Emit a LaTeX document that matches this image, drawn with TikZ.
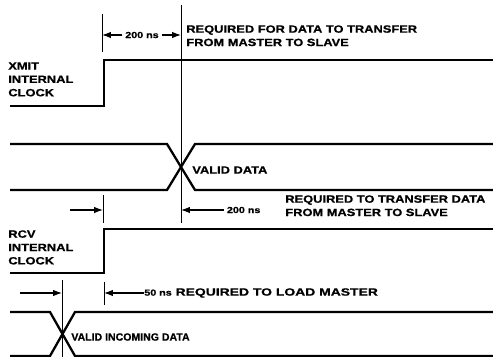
\documentclass[tikz,border=0pt]{standalone}
\usepackage{fontspec}
\setmainfont{Liberation Sans}
\newfontfamily\capsfont[FakeStretch=1.22,FakeBold=0.8]{Liberation Sans Bold}
\newfontfamily\loadfont[FakeStretch=1.32,FakeBold=0.8]{Liberation Sans Bold}
\newfontfamily\plainbold[FakeBold=0.8]{Liberation Sans Bold}
\usetikzlibrary{arrows.meta,positioning}

\begin{document}
\begin{tikzpicture}[x=0.02cm,y=-0.02cm]
      \tikzstyle{wave} = [line width=1.3pt]
      \tikzstyle{guide} = [line width=0.45pt]
      \tikzstyle{dim} = [line width=0.6pt, -{Latex[length=5pt,width=3.6pt]}]
      \tikzstyle{caption} = [font=\capsfont\fontsize{6}{7.6}\selectfont, align=left, inner sep=0pt]
      \tikzstyle{tag} = [font=\capsfont\fontsize{5}{6}\selectfont, inner sep=1.5pt]

      \useasboundingbox (0,0) rectangle (493,357);

      % waveforms
      \draw[wave] (10,106) -- (104,106) -- (104,60) -- (493,60);
      \draw[wave] (10,144) -- (167,144) -- (195,190) -- (493,190);
      \draw[wave] (10,190) -- (167,190) -- (195,144) -- (493,144);
      \draw[wave] (10,273) -- (104,273) -- (104,229) -- (493,229);
      \draw[wave] (10,312) -- (50,312) -- (75,356) -- (493,356);
      \draw[wave] (10,356) -- (50,356) -- (75,312) -- (493,312);

      % guide lines
      \draw[guide] (102,14) -- (102,52);
      \draw[guide] (181,5) -- (181,223);
      \draw[guide] (103,195) -- (103,223);
      \draw[guide] (62,280) -- (62,357);
      \draw[guide] (104,282) -- (104,305);

      % signal names
      \node[caption, anchor=north west] (xmit) at (8,62) {XMIT\\INTERNAL\\CLOCK};
      \node[caption, anchor=north west] (rcv) at (8,230) {RCV\\INTERNAL\\CLOCK};

      % timing marks
      \coordinate (xa) at (102,35);
      \coordinate (xb) at (181,35);
      \node[tag] (t1) at (142,35) {200 ns};
      \draw[dim] (t1) -- (xa);
      \draw[dim] (t1) -- (xb);
      \node[caption, anchor=north west] (req1) at (186,25) {REQUIRED FOR DATA TO TRANSFER\\FROM MASTER TO SLAVE};

      \node[caption, anchor=west] (valid) at (192,170) {VALID DATA};

      \coordinate (ra) at (70,210);
      \coordinate (rb) at (103,210);
      \coordinate (rc) at (181,210);
      \draw[dim] (ra) -- (rb);
      \node[tag, anchor=west] (t2) at (224,210) {200 ns};
      \draw[dim] (t2) -- (rc);
      \node[caption, anchor=north west] (req2) at (285,195) {REQUIRED TO TRANSFER DATA\\FROM MASTER TO SLAVE};

      \coordinate (la) at (20,293);
      \coordinate (lb) at (62,293);
      \coordinate (lc) at (104,293);
      \draw[dim] (la) -- (lb);
      \node[caption, font=\loadfont\fontsize{6}{7.6}\selectfont, anchor=west] (load) at (144,293) {{\capsfont\fontsize{5}{6}\selectfont 50 ns} REQUIRED TO LOAD MASTER};
      \draw[dim] (load) -- (lc);

      \node[caption, font=\plainbold\fontsize{6}{7.6}\selectfont, anchor=west] (incoming) at (71,337) {VALID INCOMING DATA};
    \end{tikzpicture}
\end{document}
